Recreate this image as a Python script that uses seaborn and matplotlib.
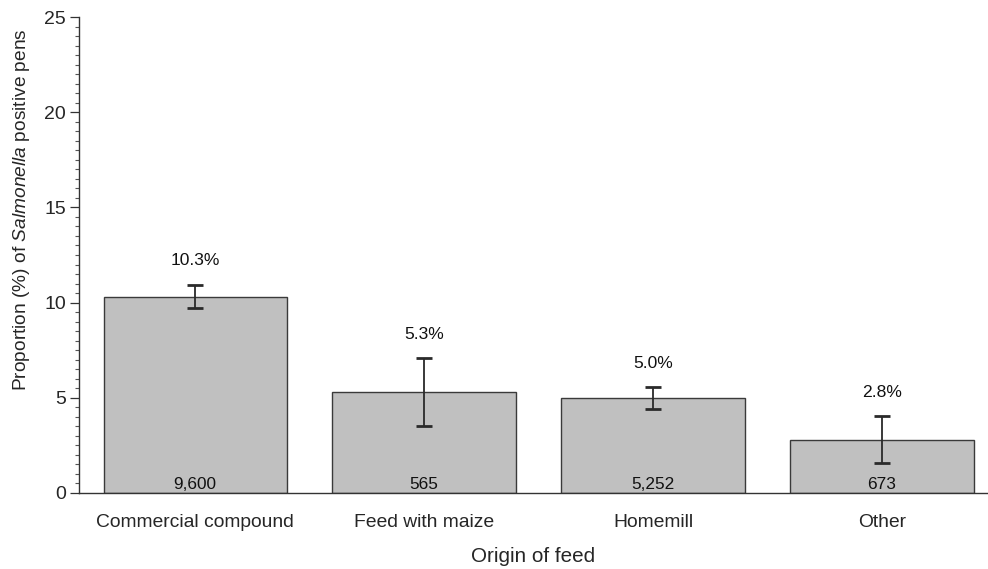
import matplotlib
matplotlib.use("Agg")
import matplotlib.pyplot as plt
from matplotlib.ticker import MultipleLocator
import numpy as np
import pandas as pd
import seaborn as sns

# Proportion of Salmonella-positive pens by origin of feed
categories = ["Commercial compound", "Feed with maize", "Homemill", "Other"]
proportion = [10.3, 5.3, 5.0, 2.8]
ci_lower = [9.7, 3.5, 4.4, 1.56]
ci_upper = [10.95, 7.1, 5.58, 4.05]
n_pens = [9600, 565, 5252, 673]

df = pd.DataFrame({"origin": categories, "prop": proportion})

sns.set_theme(style="white")
plt.rcParams["font.family"] = ["Liberation Sans", "DejaVu Sans"]
plt.rcParams["mathtext.fontset"] = "custom"
plt.rcParams["mathtext.rm"] = "Liberation Sans"
plt.rcParams["mathtext.it"] = "Liberation Sans:italic"

fig = plt.figure(figsize=(9.88, 5.69), dpi=100)
ax = fig.add_axes([0.080, 0.1336, 0.920, 0.8365])

sns.barplot(data=df, x="origin", y="prop", ax=ax, color="#c0c0c0",
            edgecolor="#3a3a3a", linewidth=1.0, width=0.8,
            errorbar=None, saturation=1)

xpos = np.arange(len(categories))
prop = np.array(proportion)
yerr = np.vstack([prop - np.array(ci_lower), np.array(ci_upper) - prop])
ax.errorbar(xpos, prop, yerr=yerr, fmt="none", ecolor="#2a2a2a",
            elinewidth=1.3, capsize=6, capthick=2.0)

for x, p, hi, n in zip(xpos, proportion, ci_upper, n_pens):
    ax.annotate(f"{p:.1f}%", xy=(x, hi), xytext=(0, 17),
                textcoords="offset points", ha="center", va="center",
                fontsize=12.6, color="#111111")
    ax.annotate(f"{n:,}", xy=(x, 0), xytext=(0, 1.0),
                textcoords="offset points", ha="center", va="bottom",
                fontsize=12.4, color="#111111")

ax.set_xlim(-0.507, 3.463)
ax.set_ylim(0, 25)
ax.yaxis.set_major_locator(MultipleLocator(5))
ax.yaxis.set_minor_locator(MultipleLocator(0.5))
ax.tick_params(axis="y", which="major", direction="out", length=6.5,
               width=0.9, color="#333333", labelsize=14, left=True, pad=3)
ax.tick_params(axis="y", which="minor", direction="out", length=3,
               width=0.8, color="#555555", left=True)
ax.tick_params(axis="x", which="both", bottom=False, labelsize=13.9, pad=9)

for side in ["top", "right"]:
    ax.spines[side].set_visible(False)
for side in ["left", "bottom"]:
    ax.spines[side].set_color("#333333")
    ax.spines[side].set_linewidth(1.0)

ax.set_xlabel("Origin of feed", fontsize=14.9, labelpad=12)
ax.set_ylabel(r"Proportion (%) of $\mathit{Salmonella}$ positive pens",
              fontsize=13.8)
ax.yaxis.set_label_coords(-0.052, 0.595)

fig.savefig("out.png", dpi=100)
